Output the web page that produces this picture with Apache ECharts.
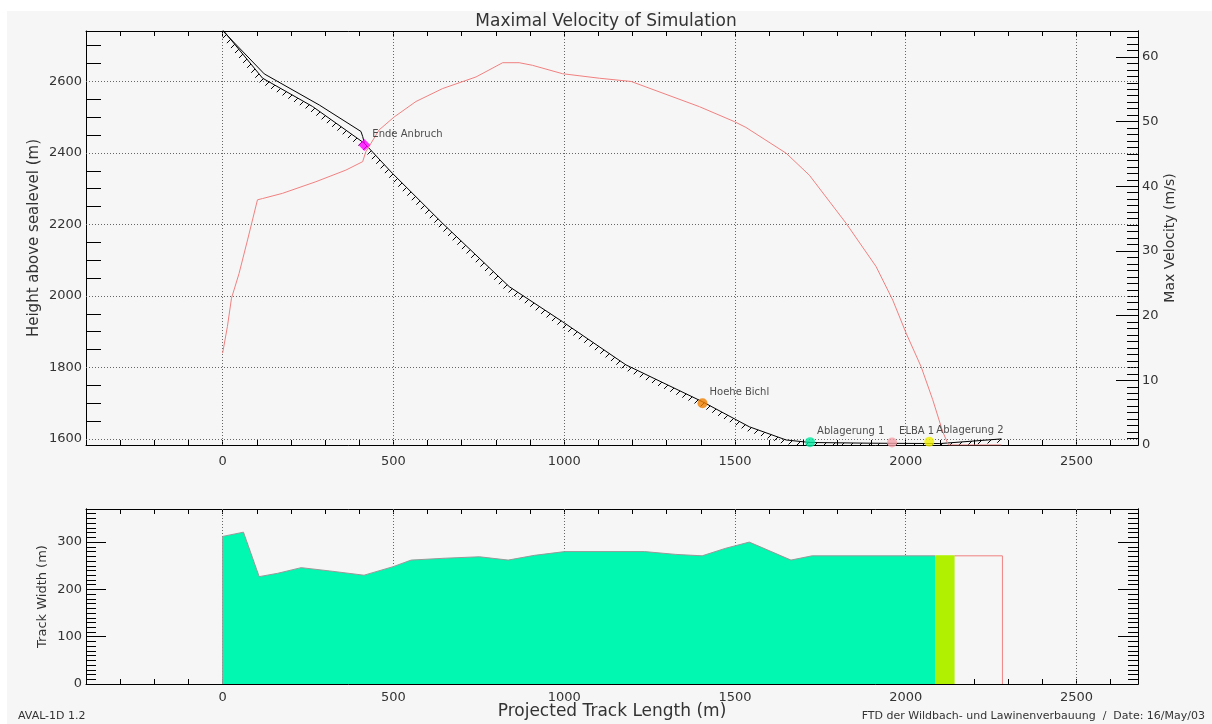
<!DOCTYPE html>
<html><head><meta charset="utf-8">
<script src="https://cdn.jsdelivr.net/npm/echarts@6/dist/echarts.min.js"></script>
<style>html,body{margin:0;padding:0;background:#fff;} #c{width:1212px;height:724px;}</style>
</head><body><div id="c"></div>
<script>
// ---- data ----
const terrainX = [0, 117, 263, 415, 497, 644, 839, 995, 1181, 1405, 1542, 1650, 1720, 1900, 2100, 2280];
const terrainY = [2745, 2609, 2530, 2427, 2343, 2203, 2026, 1928, 1807, 1704, 1634, 1597, 1590, 1588, 1587, 1600];
const flowX = [0, 122, 283, 405, 410, 415];
const flowY = [2742, 2621, 2534, 2460, 2446, 2427];
const velX = [0, 14, 26, 48, 73, 102, 117, 175, 273, 361, 410, 419, 458, 502, 566, 644, 742, 820, 868, 907, 995, 1103, 1196, 1396, 1498, 1532, 1650, 1718, 1825, 1913, 1962, 2001, 2045, 2079, 2108, 2125, 2280];
const velY = [14.2, 18.3, 22.7, 26.5, 31.7, 37.9, 38.1, 38.9, 40.7, 42.5, 43.8, 45.3, 48.7, 50.7, 53.1, 55.1, 56.9, 59.1, 59.1, 58.7, 57.4, 56.7, 56.2, 52.3, 50.0, 49.1, 45.1, 41.7, 34.3, 27.6, 22.4, 17.3, 12.1, 7.0, 2.1, 0, 0];
const markerNames = ['Ende Anbruch', 'Hoehe Bichl', 'Ablagerung 1', 'ELBA 1', 'Ablagerung 2'];
const markerX = [415, 1405, 1720, 1960, 2069];
const markerY = [2422, 1700, 1591, 1590, 1592];
const widthX = [0, 0, 61, 107, 161, 230, 314, 414, 499, 552, 652, 752, 836, 913, 1002, 1235, 1327, 1404, 1473, 1542, 1664, 1726, 2086];
const widthY = [0, 312, 321, 227, 234, 246, 239, 230, 248, 262, 266, 269, 262, 272, 280, 280, 274, 271, 287, 300, 262, 271, 271];
const bandX = [2086, 2143];
const bandY = [271, 271];
const extentX = [2143, 2283, 2283];
const extentY = [271, 271, 0];
const xTickLabels = [0, 500, 1000, 1500, 2000, 2500];
const heightTickLabels = [1600, 1800, 2000, 2200, 2400, 2600];
const heightMinorTicks = [1650, 1700, 1750, 1850, 1900, 1950, 2050, 2100, 2150, 2250, 2300, 2350, 2450, 2500, 2550, 2650, 2700];

// ---- styles ----
const markerColors = ['#ff00ff', '#f08000', '#00e8a0', '#f4a0a8', '#f0f000'];
const markerSymbols = ['diamond', 'circle', 'circle', 'circle', 'circle'];
const FONT = 'DejaVu Sans';
const TXT = '#333';
const zip = (a, b) => a.map((v, i) => [v, b[i]]);

const X_MIN = -400, X_MAX = 2680;
const gridDot = {type: [1, 2], color: '#666', width: 1};
const axisLineBlack = {show: true, onZero: false, lineStyle: {color: '#000', width: 1}};
const plain = v => String(v);

function xAxisDef(gridIndex, position, labels) {
  return {
    type: 'value', gridIndex, position, min: X_MIN, max: X_MAX, interval: 100,
    axisLine: axisLineBlack,
    axisTick: {show: true, inside: true, length: 5, lineStyle: {color: '#000'}},
    splitLine: {show: false},
    axisLabel: labels ? {
      show: true, margin: labels, fontSize: 13, fontFamily: FONT, color: TXT,
      formatter: v => (xTickLabels.indexOf(v) >= 0 ? String(v) : '')
    } : {show: false}
  };
}

const chart = echarts.init(document.getElementById('c'), null, {renderer: 'canvas'});

const hatchSegs = terrainX.slice(0, -1).map((x, i) => [x, terrainY[i], terrainX[i + 1], terrainY[i + 1]]);

const option = {
  backgroundColor: '#ffffff',
  animation: false,
  title: {
    text: 'Maximal Velocity of Simulation', left: 'center', top: 8,
    textStyle: {fontSize: 17, fontWeight: 'normal', fontFamily: FONT, color: TXT}
  },
  graphic: [
    {type: 'rect', left: 7, top: 11, shape: {width: 1205, height: 713}, style: {fill: '#f6f6f6'}, z: -100, silent: true},
    {type: 'text', left: 18, top: 711, style: {text: 'AVAL-1D 1.2', fontSize: 11, fontFamily: FONT, fill: TXT}},
    {type: 'text', right: 7, top: 711, style: {text: 'FTD der Wildbach- und Lawinenverbauung  /  Date: 16/May/03', fontSize: 11, fontFamily: FONT, fill: TXT}}
  ],
  grid: [
    {left: 86, top: 31, width: 1052, height: 414, outerBoundsMode: 'none'},
    {left: 86, top: 509, width: 1052, height: 175, outerBoundsMode: 'none'}
  ],
  xAxis: [
    xAxisDef(0, 'bottom', 10),
    xAxisDef(0, 'top', 0),
    Object.assign(xAxisDef(1, 'bottom', 7), {
      name: 'Projected Track Length (m)', nameLocation: 'middle', nameGap: 19, nameMoveOverlap: false,
      nameTextStyle: {fontSize: 17, fontFamily: FONT, color: TXT}
    }),
    xAxisDef(1, 'top', 0)
  ],
  yAxis: [
    { // 0: height, left
      type: 'value', gridIndex: 0, position: 'left', min: 1583, max: 2741,
      axisLine: axisLineBlack,
      axisTick: {show: true, inside: true, length: 15, customValues: heightMinorTicks, lineStyle: {color: '#000'}},
      axisLabel: {show: true, customValues: heightTickLabels, formatter: plain, margin: 4, fontSize: 13, fontFamily: FONT, color: TXT},
      splitLine: {show: false},
      name: 'Height above sealevel (m)', nameLocation: 'middle', nameGap: 44, nameRotate: 90, nameMoveOverlap: false,
      nameTextStyle: {fontSize: 15, fontFamily: FONT, color: TXT}
    },
    { // 1: velocity minor
      type: 'value', gridIndex: 0, position: 'right', min: 0, max: 64, interval: 1,
      axisLine: axisLineBlack,
      axisTick: {show: true, inside: true, length: 11, lineStyle: {color: '#000'}},
      axisLabel: {show: false}, splitLine: {show: false}
    },
    { // 2: velocity major
      type: 'value', gridIndex: 0, position: 'right', min: 0, max: 64, interval: 10,
      axisLine: axisLineBlack,
      axisTick: {show: true, inside: true, length: 22, lineStyle: {color: '#000'}},
      axisLabel: {show: true, formatter: plain, margin: 4, fontSize: 13, fontFamily: FONT, color: TXT, showMaxLabel: false},
      splitLine: {show: false},
      name: 'Max Velocity (m/s)', nameLocation: 'middle', nameGap: 25, nameRotate: 90, nameMoveOverlap: false,
      nameTextStyle: {fontSize: 14, fontFamily: FONT, color: TXT}
    },
    { // 3: width minor left
      type: 'value', gridIndex: 1, position: 'left', min: 0, max: 370, interval: 10,
      axisLine: axisLineBlack,
      axisTick: {show: true, inside: true, length: 10, lineStyle: {color: '#000'}},
      axisLabel: {show: false}, splitLine: {show: false}
    },
    { // 4: width major left
      type: 'value', gridIndex: 1, position: 'left', min: 0, max: 370, interval: 100,
      axisLine: axisLineBlack,
      axisTick: {show: true, inside: true, length: 20, lineStyle: {color: '#000'}},
      axisLabel: {show: true, formatter: plain, margin: 4, fontSize: 13, fontFamily: FONT, color: TXT, showMaxLabel: false},
      splitLine: {show: false},
      name: 'Track Width (m)', nameLocation: 'middle', nameGap: 37, nameRotate: 90, nameMoveOverlap: false,
      nameTextStyle: {fontSize: 13, fontFamily: FONT, color: TXT}
    },
    { // 5: width minor right
      type: 'value', gridIndex: 1, position: 'right', min: 0, max: 370, interval: 10,
      axisLine: axisLineBlack,
      axisTick: {show: true, inside: true, length: 10, lineStyle: {color: '#000'}},
      axisLabel: {show: false}, splitLine: {show: false}
    },
    { // 6: width major right
      type: 'value', gridIndex: 1, position: 'right', min: 0, max: 370, interval: 100,
      axisLine: axisLineBlack,
      axisTick: {show: true, inside: true, length: 20, lineStyle: {color: '#000'}},
      axisLabel: {show: false}, splitLine: {show: false}
    }
  ],
  series: [
    { // terrain line + grid lines of top plot
      type: 'line', xAxisIndex: 0, yAxisIndex: 0, data: zip(terrainX, terrainY),
      symbol: 'none', lineStyle: {color: '#000', width: 1}, z: 3, silent: true,
      markLine: {
        silent: true, symbol: 'none', z: 1, animation: false,
        label: {show: false}, lineStyle: gridDot,
        data: xTickLabels.map(v => ({xAxis: v})).concat(heightTickLabels.map(v => ({yAxis: v})))
      }
    },
    { // hatching below the terrain
      type: 'custom', xAxisIndex: 0, yAxisIndex: 0, data: hatchSegs, encode: {x: [0, 2], y: [1, 3]},
      silent: true, clip: true, z: 3,
      renderItem(params, api) {
        const a = api.coord([api.value(0), api.value(1)]);
        const b = api.coord([api.value(2), api.value(3)]);
        const cs = params.coordSys;
        const step = 9, L = 3.8;
        const sa = a[0] + a[1], sb = b[0] + b[1];
        const children = [];
        for (let c = Math.ceil(sa / step) * step; c < sb; c += step) {
          const t = (c - sa) / (sb - sa);
          const px = a[0] + t * (b[0] - a[0]), py = a[1] + t * (b[1] - a[1]);
          if (py < cs.y + 2 || py > cs.y + cs.height) continue;
          children.push({type: 'line', shape: {x1: px, y1: py, x2: px - L, y2: py + L},
            style: {stroke: '#000', lineWidth: 1}});
        }
        return {type: 'group', children};
      }
    },
    { // flow surface in release zone
      type: 'line', xAxisIndex: 0, yAxisIndex: 0, data: zip(flowX, flowY),
      symbol: 'none', lineStyle: {color: '#000', width: 1}, z: 3, silent: true
    },
    { // max velocity
      type: 'line', xAxisIndex: 0, yAxisIndex: 2, data: zip(velX, velY),
      symbol: 'none', lineStyle: {color: '#f08080', width: 1}, z: 4, silent: true
    },
    { // markers
      type: 'scatter', xAxisIndex: 0, yAxisIndex: 0, z: 6, silent: true,
      data: markerNames.map((n, i) => ({
        name: n, value: [markerX[i], markerY[i]], symbol: markerSymbols[i],
        symbolSize: markerSymbols[i] === 'diamond' ? 12 : 10,
        itemStyle: {color: markerColors[i]}
      })),
      label: {show: true, position: 'right', distance: 2, offset: [0, -11], formatter: '{b}',
        fontSize: 10, fontFamily: FONT, color: '#222'}
    },
    { // track width
      type: 'line', xAxisIndex: 2, yAxisIndex: 3, data: zip(widthX, widthY),
      symbol: 'none', lineStyle: {color: '#999', width: 1},
      areaStyle: {color: '#00f8b0', opacity: 1}, z: 3, silent: true,
      markLine: {
        silent: true, symbol: 'none', z: 1, animation: false,
        label: {show: false}, lineStyle: gridDot,
        data: xTickLabels.map(v => ({xAxis: v}))
      }
    },
    { // deposit band
      type: 'line', xAxisIndex: 2, yAxisIndex: 3, data: zip(bandX, bandY),
      symbol: 'none', lineStyle: {color: '#b0f000', width: 1},
      areaStyle: {color: '#b0f000', opacity: 1}, z: 3, silent: true
    },
    { // runout extent outline
      type: 'line', xAxisIndex: 2, yAxisIndex: 3, data: zip(extentX, extentY),
      symbol: 'none', lineStyle: {color: '#f08080', width: 1}, z: 4, silent: true
    }
  ]
};
chart.setOption(option);
</script>
</body></html>
